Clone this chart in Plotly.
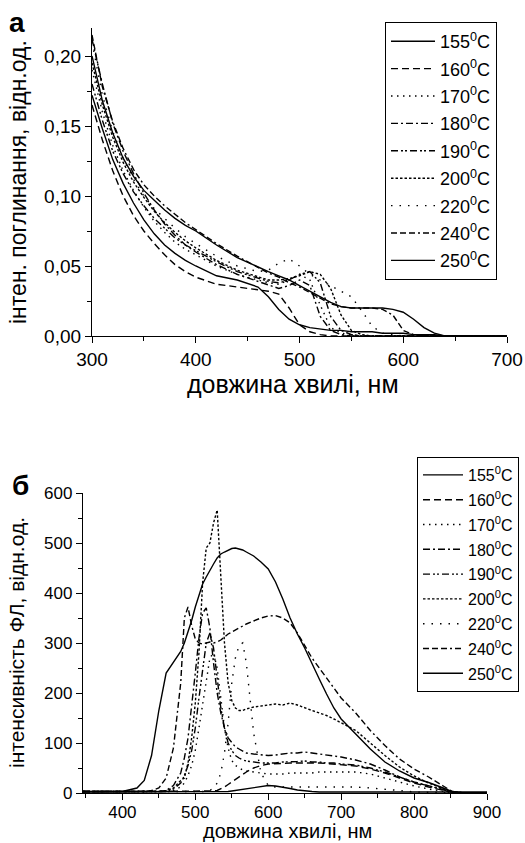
import plotly.graph_objects as go

# ---------------- panel a: absorption ----------------
abs_wl = [300, 310, 320, 330, 340, 350, 360, 370, 380, 390, 400,
          420, 440, 460, 470, 480, 490, 500, 510, 520, 530, 540, 550, 560, 570,
          580, 590, 600, 610, 620, 630, 640, 660, 700]

abs_155 = [0.172, 0.148, 0.126, 0.109, 0.095, 0.083, 0.073, 0.065, 0.059, 0.054, 0.050,
           0.043, 0.040, 0.035, 0.028, 0.019, 0.012, 0.008, 0.006, 0.005, 0.004, 0.004, 0.003, 0.003, 0.003,
           0.002, 0.002, 0.002, 0.001, 0.001, 0.001, 0.000, 0.000, 0.000]
abs_160 = [0.165, 0.140, 0.118, 0.100, 0.086, 0.075, 0.066, 0.058, 0.051, 0.046, 0.042,
           0.037, 0.035, 0.033, 0.032, 0.030, 0.020, 0.008, 0.003, 0.001, 0.000, 0.000, 0.000, 0.000, 0.000,
           0.000, 0.000, 0.000, 0.000, 0.000, 0.000, 0.000, 0.000, 0.000]
abs_170 = [0.190, 0.160, 0.136, 0.118, 0.104, 0.092, 0.082, 0.074, 0.067, 0.062, 0.058,
           0.050, 0.044, 0.040, 0.038, 0.037, 0.040, 0.044, 0.040, 0.022, 0.006, 0.002, 0.001, 0.000, 0.000,
           0.000, 0.000, 0.000, 0.000, 0.000, 0.000, 0.000, 0.000, 0.000]
abs_180 = [0.212, 0.180, 0.152, 0.132, 0.116, 0.102, 0.090, 0.080, 0.072, 0.065, 0.060,
           0.051, 0.044, 0.039, 0.036, 0.034, 0.036, 0.040, 0.036, 0.014, 0.004, 0.001, 0.000, 0.000, 0.000,
           0.000, 0.000, 0.000, 0.000, 0.000, 0.000, 0.000, 0.000, 0.000]
abs_190 = [0.180, 0.154, 0.132, 0.116, 0.103, 0.093, 0.084, 0.077, 0.070, 0.065, 0.061,
           0.053, 0.046, 0.041, 0.039, 0.038, 0.040, 0.044, 0.046, 0.038, 0.014, 0.004, 0.001, 0.000, 0.000,
           0.000, 0.000, 0.000, 0.000, 0.000, 0.000, 0.000, 0.000, 0.000]
abs_200 = [0.195, 0.165, 0.142, 0.124, 0.110, 0.099, 0.089, 0.081, 0.074, 0.068, 0.063,
           0.054, 0.047, 0.042, 0.040, 0.040, 0.041, 0.043, 0.046, 0.044, 0.034, 0.015, 0.004, 0.001, 0.000,
           0.000, 0.000, 0.000, 0.000, 0.000, 0.000, 0.000, 0.000, 0.000]
abs_220 = [0.210, 0.172, 0.146, 0.127, 0.112, 0.100, 0.091, 0.084, 0.077, 0.071, 0.066,
           0.057, 0.050, 0.046, 0.047, 0.052, 0.055, 0.050, 0.044, 0.040, 0.036, 0.032, 0.028, 0.018, 0.007,
           0.002, 0.001, 0.000, 0.000, 0.000, 0.000, 0.000, 0.000, 0.000]
abs_240 = [0.215, 0.178, 0.153, 0.134, 0.119, 0.108, 0.100, 0.093, 0.087, 0.081, 0.076,
           0.066, 0.057, 0.049, 0.045, 0.042, 0.038, 0.035, 0.031, 0.027, 0.023, 0.021, 0.020, 0.020, 0.020,
           0.019, 0.015, 0.004, 0.001, 0.000, 0.000, 0.000, 0.000, 0.000]
abs_250 = [0.200, 0.168, 0.145, 0.127, 0.114, 0.104, 0.097, 0.090, 0.084, 0.079, 0.075,
           0.065, 0.056, 0.049, 0.046, 0.043, 0.040, 0.036, 0.032, 0.028, 0.024, 0.021, 0.020, 0.020, 0.020,
           0.020, 0.019, 0.017, 0.012, 0.006, 0.002, 0.000, 0.000, 0.000]

# ---------------- panel b: photoluminescence ----------------
pl_wl = [346, 380, 400, 420, 430, 440, 450, 460, 470, 480,
         485, 490, 495, 500, 505, 510, 515, 520, 525, 530,
         535, 540, 545, 550, 555, 560, 565, 570,
         580, 590, 600, 610, 620, 630, 640, 650, 660, 670, 680, 690, 700,
         720, 740, 760, 780, 800, 820, 840, 850, 860, 880, 900]

pl_155 = [2, 2, 2, 2, 2, 2, 2, 2, 2, 2,
          2, 2, 2, 2, 2, 2, 2, 2, 2, 2,
          2, 3, 3, 4, 5, 6, 7, 9,
          11, 13, 15, 14, 12, 9, 6, 4, 3, 2, 2, 2, 2,
          2, 2, 2, 2, 2, 2, 2, 2, 2, 2, 2]
pl_160 = [3, 3, 3, 3, 3, 3, 3, 3, 3, 3,
          3, 3, 3, 3, 3, 3, 3, 3, 4, 5,
          8, 12, 17, 22, 27, 32, 37, 42,
          50, 55, 58, 58, 59, 60, 60, 61, 60, 60, 59, 58, 57,
          54, 48, 40, 30, 20, 12, 5, 2, 1, 0, 0]
pl_170 = [3, 3, 3, 3, 3, 3, 3, 3, 5, 12,
          20, 35, 55, 85, 130, 180, 230, 270, 280, 250,
          190, 130, 90, 65, 55, 50, 46, 44,
          42, 40, 38, 38, 38, 40, 40, 40, 40, 42, 42, 42, 42,
          42, 38, 30, 22, 14, 8, 3, 1, 0, 0, 0]
pl_180 = [3, 3, 3, 3, 3, 3, 3, 5, 15, 40,
          70, 110, 170, 240, 310, 360, 370, 330, 260, 200,
          160, 130, 110, 100, 92, 88, 84, 80,
          78, 76, 75, 76, 78, 80, 80, 82, 80, 78, 76, 74, 72,
          66, 58, 46, 32, 22, 14, 6, 3, 1, 0, 0]
pl_190 = [3, 3, 3, 3, 3, 3, 3, 3, 8, 20,
          35, 55, 85, 130, 190, 250, 300, 320, 290, 230,
          170, 130, 100, 85, 75, 70, 66, 64,
          62, 60, 60, 60, 62, 62, 63, 64, 62, 62, 60, 60, 58,
          56, 50, 42, 32, 22, 14, 6, 3, 1, 0, 0]
pl_200 = [3, 3, 3, 3, 3, 3, 3, 5, 10, 25,
          30, 60, 110, 180, 280, 420, 490, 500, 540, 566,
          420, 300, 220, 185, 170, 165, 165, 168,
          172, 174, 176, 178, 176, 180, 176, 170, 165, 160, 155, 148, 140,
          125, 100, 75, 52, 34, 20, 8, 3, 1, 0, 0]
pl_220 = [3, 3, 3, 3, 3, 3, 3, 3, 3, 3,
          3, 3, 3, 3, 3, 3, 3, 5, 10, 20,
          40, 80, 140, 220, 270, 295, 300, 260,
          120, 40, 15, 12, 12, 12, 12, 12, 12, 12, 12, 12, 12,
          12, 10, 8, 5, 2, 1, 0, 0, 0, 0, 0]
pl_240 = [3, 3, 3, 3, 3, 5, 10, 30, 90, 220,
          350, 372, 335, 308, 300, 298, 300, 302, 300, 302,
          306, 312, 318, 322, 326, 330, 334, 338,
          344, 350, 354, 355, 350, 340, 320, 295, 270, 250, 230, 210, 190,
          160, 125, 95, 68, 48, 32, 14, 5, 1, 0, 0]
pl_250 = [3, 3, 3, 10, 25, 75, 165, 240, 262, 283,
          300, 322, 345, 372, 395, 418, 432, 446, 458, 470,
          478, 482, 486, 489, 490, 488, 486, 482,
          474, 462, 448, 422, 388, 350, 318, 290, 258, 228, 198, 170, 148,
          118, 88, 62, 44, 30, 21, 10, 4, 1, 0, 0]

temps = ["155", "160", "170", "180", "190", "200", "220", "240", "250"]
abs_series = [abs_155, abs_160, abs_170, abs_180, abs_190, abs_200, abs_220, abs_240, abs_250]
pl_series = [pl_155, pl_160, pl_170, pl_180, pl_190, pl_200, pl_220, pl_240, pl_250]
dashes = ["solid", "7px,4px", "1.5px,4.5px", "7px,3px,2px,3px",
          "7px,3px,2px,2px,2px,3px", "2.5px,2px", "1.5px,7px",
          "6px,3px,6px,3px,6px,3px,2px,3px", "solid"]

for s in abs_series:
    assert len(s) == len(abs_wl)
for s in pl_series:
    assert len(s) == len(pl_wl)

FONT = "Liberation Sans, Arial, sans-serif"
fig = go.Figure()

for t, ys, d in zip(temps, abs_series, dashes):
    fig.add_trace(go.Scatter(
        x=abs_wl, y=ys, mode="lines", name=f"{t}<sup>0</sup>C",
        line=dict(color="black", width=1.4, dash=d),
        xaxis="x", yaxis="y", legend="legend", legendgroup="a" + t))

for t, ys, d in zip(temps, pl_series, dashes):
    fig.add_trace(go.Scatter(
        x=pl_wl, y=ys, mode="lines", name=f"{t}<sup>0</sup>C",
        line=dict(color="black", width=1.4, dash=d),
        xaxis="x2", yaxis="y2", legend="legend2", legendgroup="b" + t))

W, H = 525, 843
def px(x):
    return x / W
def py(y):
    return 1 - y / H

def axis_style(size):
    return dict(showline=True, linecolor="black", linewidth=1.3,
                ticks="outside", ticklen=6, tickwidth=1.2, tickcolor="black",
                showgrid=False, zeroline=False, mirror=False, automargin=False,
                tickfont=dict(family=FONT, size=size, color="black"))

fig.update_layout(
    template="none",
    width=W, height=H,
    margin=dict(l=0, r=0, t=0, b=0, autoexpand=False),
    paper_bgcolor="white", plot_bgcolor="white",
    separators=", ",
    font=dict(family=FONT, color="black"),
    xaxis=dict(domain=[px(92), px(507)], range=[300, 700], anchor="y",
               tickvals=[300, 400, 500, 600, 700],
               minor=dict(dtick=50, tick0=300, ticks="outside", ticklen=4, tickcolor="black"),
               **axis_style(19)),
    yaxis=dict(domain=[py(336), py(28)], range=[0, 0.22], anchor="x",
               tickvals=[0, 0.05, 0.10, 0.15, 0.20], tickformat=".2f",
               minor=dict(dtick=0.025, tick0=0, ticks="outside", ticklen=4, tickcolor="black"),
               **axis_style(19)),
    xaxis2=dict(domain=[px(83), px(487)], range=[346, 900], anchor="y2",
                tickvals=[400, 500, 600, 700, 800, 900], ticklabelstandoff=-3,
                minor=dict(dtick=50, tick0=350, ticks="outside", ticklen=4, tickcolor="black"),
                **axis_style(17)),
    yaxis2=dict(domain=[py(793), py(493)], range=[0, 600], anchor="x2",
                tickvals=[0, 100, 200, 300, 400, 500, 600],
                minor=dict(dtick=50, tick0=0, ticks="outside", ticklen=4, tickcolor="black"),
                **axis_style(17)),
    legend=dict(x=px(385), y=py(22), xanchor="left", yanchor="top",
                bordercolor="black", borderwidth=1, bgcolor="white",
                font=dict(family=FONT, size=18, color="black"),
                itemwidth=44, tracegroupgap=1, traceorder="grouped"),
    legend2=dict(x=px(417), y=py(457), xanchor="left", yanchor="top",
                 bordercolor="black", borderwidth=1, bgcolor="white",
                 font=dict(family=FONT, size=16, color="black"),
                 itemwidth=40, tracegroupgap=1, traceorder="grouped"),
    showlegend=True,
)

annotations = [
    dict(text="<b>а</b>", x=px(17), y=py(22), font=dict(size=28)),
    dict(text="<b>б</b>", x=px(20), y=py(485), font=dict(size=28)),
    dict(text="довжина хвилі, нм", x=px(293), y=py(384), font=dict(size=25)),
    dict(text="інтен. поглинання, відн.од.", x=px(18), y=py(182), font=dict(size=23)),
    dict(text="довжина хвилі, нм", x=px(287), y=py(831), font=dict(size=20)),
    dict(text="інтенсивність ФЛ, відн.од.", x=px(16), y=py(643), font=dict(size=21)),
]
for a in annotations:
    a.update(xref="paper", yref="paper", xanchor="center", yanchor="middle", showarrow=False)
    a["font"].update(family=FONT, color="black")
annotations[3]["textangle"] = -90
annotations[5]["textangle"] = -90
fig.update_layout(annotations=annotations)

fig.write_html("out.html")
